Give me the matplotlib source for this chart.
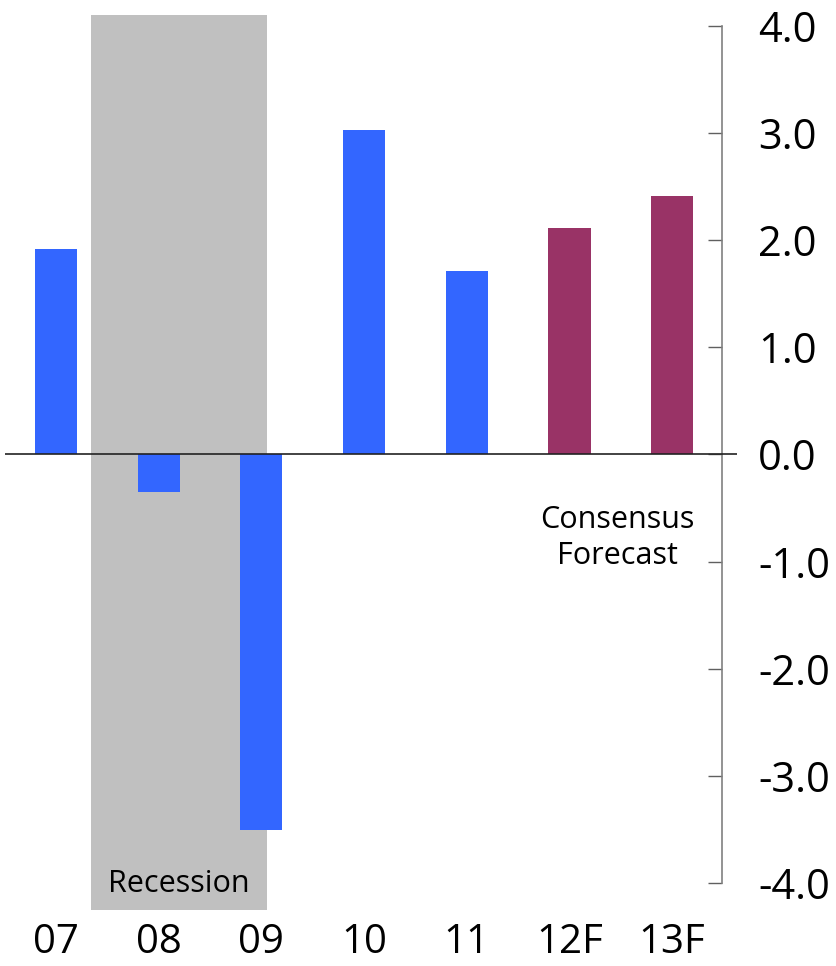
import matplotlib
matplotlib.use("Agg")
import matplotlib.pyplot as plt

# annual growth, actual and consensus forecast
years = ["07", "08", "09", "10", "11", "12F", "13F"]
growth = [1.92, -0.35, -3.5, 3.03, 1.71, 2.11, 2.41]
is_forecast = [False, False, False, False, False, True, True]
yticks = [4.0, 3.0, 2.0, 1.0, 0.0, -1.0, -2.0, -3.0, -4.0]
recession = (0.34, 2.05)

blue = "#3366FF"
purple = "#993366"
shade = "#C0C0C0"

plt.rcParams["font.family"] = ["Open Sans", "DejaVu Sans"]

fig = plt.figure(figsize=(8.37, 9.66), dpi=100)
ax = fig.add_axes([5 / 837, 56 / 966, 732 / 837, 895 / 966])

x = list(range(len(years)))
colors = [purple if f else blue for f in is_forecast]

ax.axvspan(recession[0], recession[1], color=shade, lw=0, zorder=0)
ax.bar(x, growth, width=0.41, color=colors, zorder=2)
ax.axhline(0, color="#222222", lw=1.2, zorder=3)

ax.set_xlim(-0.497, 6.631)
ax.set_ylim(-4.25, 4.1)

# right-hand value axis drawn only from -4 to 4
for side in ["left", "top", "bottom"]:
    ax.spines[side].set_visible(False)
ax.spines["right"].set_position(("data", 6.485))
ax.spines["right"].set_bounds(-4, 4)
ax.spines["right"].set_color("#808080")
ax.spines["right"].set_linewidth(1.2)

ax.yaxis.tick_right()
ax.set_yticks(yticks)
ax.set_yticklabels([f"{v:.1f}" for v in yticks])
ax.tick_params(axis="y", direction="in", length=10, width=1, color="#606060",
               pad=26, labelsize=30)

ax.set_xticks(x)
ax.set_xticklabels(years)
ax.tick_params(axis="x", length=0, pad=9, labelsize=29)

ax.text(sum(recession) / 2, -4.01, "Recession", ha="center", va="center",
        fontsize=22, zorder=4)
ax.text(5.47, -0.78, "Consensus\nForecast", ha="center", va="center",
        fontsize=22, linespacing=1.25, zorder=4)

fig.savefig("out.png", dpi=100)
